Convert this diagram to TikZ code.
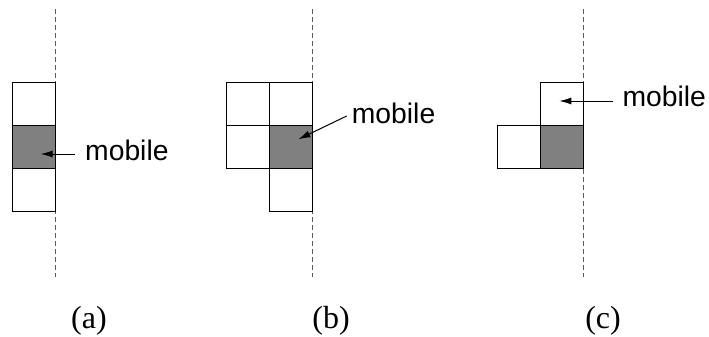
\documentclass[tikz,border=0pt]{standalone}
\usepackage{fontspec}
\setmainfont{Liberation Serif}
\newfontfamily\labelsans{Liberation Sans}
\usetikzlibrary{arrows.meta}
\definecolor{cellgray}{RGB}{128,128,128}
\definecolor{dashgray}{RGB}{90,90,90}
\tikzset{
  cell/.style={draw=black, line width=1pt, minimum size=43pt, inner sep=0pt, outer sep=0pt},
  mobilecell/.style={cell, fill=cellgray},
  borderline/.style={draw=dashgray, line width=1pt, dash pattern=on 5pt off 3pt},
  pointer/.style={draw=black, line width=1pt, -{Latex[length=12pt,width=7pt]}},
  mobiletext/.style={font=\labelsans\fontsize{28.3}{32}\selectfont, anchor=base west, inner sep=0pt},
  caption/.style={font=\fontsize{32}{36}\selectfont, anchor=base, inner sep=0pt}
}
\begin{document}
\begin{tikzpicture}[x=1pt,y=-1pt]
\useasboundingbox (0,0) rectangle (709,337);
% panel (a)
\coordinate (a-top) at (55.7,9);
\coordinate (a-bot) at (55.7,277);
\draw[borderline] (a-top) -- (a-bot);
\node[cell] (a1) at (34.2,103.5) {};
\node[mobilecell] (a2) at (34.2,146.5) {};
\node[cell] (a3) at (34.2,189.5) {};
\node[mobiletext] (at) at (85,160) {mobile};
\coordinate (a-tail) at (75,154);
\coordinate (a-tip) at (40.7,154);
\draw[pointer] (a-tail) -- (a-tip);
\node[caption] (acap) at (89,328) {(a)};
% panel (b)
\coordinate (b-top) at (312.7,9);
\coordinate (b-bot) at (312.7,277);
\draw[borderline] (b-top) -- (b-bot);
\node[cell] (b1) at (247.7,103.5) {};
\node[cell] (b2) at (291.2,103.5) {};
\node[cell] (b3) at (247.7,146.5) {};
\node[mobilecell] (b4) at (291.2,146.5) {};
\node[cell] (b5) at (291.2,189.5) {};
\node[mobiletext] (bt) at (351.7,123.3) {mobile};
\coordinate (b-tail) at (346.7,116);
\coordinate (b-tip) at (298.3,139.3);
\draw[pointer] (b-tail) -- (b-tip);
\node[caption] (bcap) at (331,328) {(b)};
% panel (c)
\coordinate (c-top) at (583.7,9);
\coordinate (c-bot) at (583.7,277);
\draw[borderline] (c-top) -- (c-bot);
\node[cell] (c1) at (562.2,103.5) {};
\node[cell] (c2) at (518.7,146.5) {};
\node[mobilecell] (c3) at (562.2,146.5) {};
\node[mobiletext] (ct) at (622.3,106.7) {mobile};
\coordinate (c-tail) at (613.3,101);
\coordinate (c-tip) at (559.3,101);
\draw[pointer] (c-tail) -- (c-tip);
\node[caption] (ccap) at (603,328) {(c)};
\end{tikzpicture}
\end{document}
